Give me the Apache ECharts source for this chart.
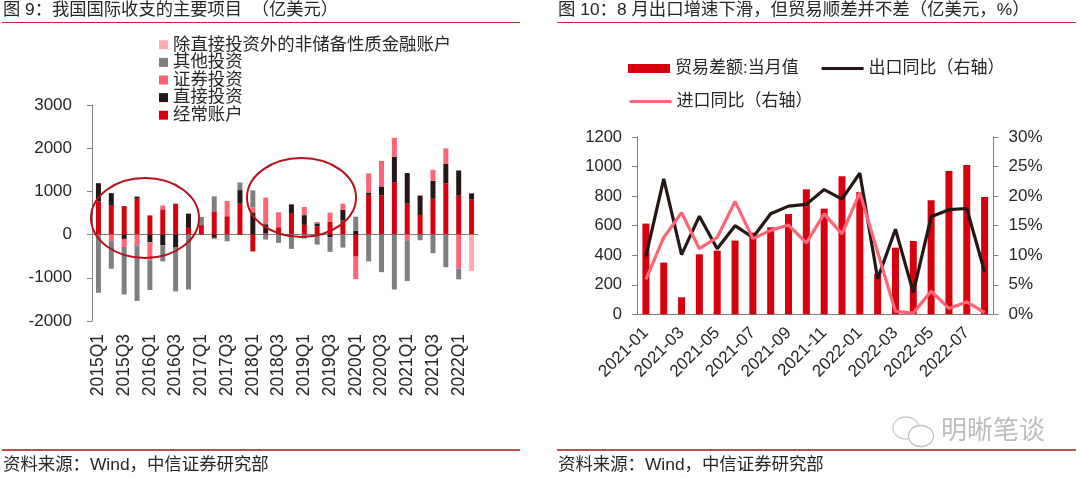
<!DOCTYPE html>
<html>
<head>
<meta charset="utf-8">
<script src="https://cdn.jsdelivr.net/npm/echarts@6/dist/echarts.min.js"></script>
<style>
html, body { margin: 0; padding: 0; background: #fff; }
#main { width: 1080px; height: 478px; }
</style>
</head>
<body>
<div id="main"></div>
<script>
// 图 9 国际收支
var quarters = ['2015Q1','2015Q2','2015Q3','2015Q4','2016Q1','2016Q2','2016Q3','2016Q4','2017Q1','2017Q2','2017Q3','2017Q4','2018Q1','2018Q2','2018Q3','2018Q4','2019Q1','2019Q2','2019Q3','2019Q4','2020Q1','2020Q2','2020Q3','2020Q4','2021Q1','2021Q2','2021Q3','2021Q4','2022Q1','2022Q2'];
var currentAccount = [770,685,660,830,445,585,715,155,210,540,425,715,-390,30,170,500,225,190,300,325,-510,920,905,1215,715,455,830,1190,900,810];
var directInvest = [420,275,-100,50,-177,-245,-300,330,25,-75,0,315,515,210,0,200,225,70,-60,245,90,55,210,585,710,445,415,445,585,145];
var portfolioInvest = [0,-150,-185,-250,-415,90,0,0,0,-30,355,0,110,615,345,0,190,30,207,145,-520,440,590,440,-130,15,255,360,-790,0];
var otherInvest = [-1346,-640,-1100,-1285,-690,-375,-1015,-1270,175,345,-155,175,400,-115,-190,-330,-90,-230,-340,-300,325,-620,-870,-1270,-945,-130,-430,-755,-245,0];
var nonReserve = [0,0,0,0,0,0,0,0,0,0,0,0,0,0,0,0,0,0,0,0,0,0,0,0,0,0,0,0,0,-840];

// 图 10 贸易差额
var months = ['2021-01','2021-02','2021-03','2021-04','2021-05','2021-06','2021-07','2021-08','2021-09','2021-10','2021-11','2021-12','2022-01','2022-02','2022-03','2022-04','2022-05','2022-06','2022-07','2022-08'];
var tradeBalance = [614,350,115,406,431,499,553,589,679,846,715,934,828,275,451,496,772,970,1011,794];
var exportYoy = [9.8,22.9,10.1,16.6,11.1,15,13,17,18.3,18.6,21.1,19.5,23.9,6,14.4,3.7,16.5,17.7,17.9,7.2];
var importYoy = [5.9,13,17.2,11.1,13,19.1,12.8,14.2,15.1,12.1,17,13.6,20.6,10.5,0.5,0.2,3.9,1,2.1,0.3];

var FONT = '"Liberation Sans","Noto Sans CJK SC",sans-serif';
var TEXT = '#262626';
var AXIS = '#808080';
var RED = '#d7000f', PINK = '#fd6478', DARK = '#231815', GREY = '#7f7f7f', LIGHT = '#ffabb0';

function stackBar(name, values, color) {
    return {
        name: name, type: 'bar', stack: 'bop', data: values,
        xAxisIndex: 0, yAxisIndex: 0, barWidth: 5,
        itemStyle: { color: color }
    };
}

function headText(x, y, str, size) {
    return { type: 'text', left: x, top: y, z: 10, silent: true,
        style: { text: str, font: size + 'px ' + FONT, fill: TEXT } };
}

function rule(x1, x2, y, width, color) {
    return { type: 'line', z: 10, silent: true,
        shape: { x1: x1, y1: y, x2: x2, y2: y },
        style: { stroke: color, lineWidth: width } };
}

function ring(cx, cy, rx, ry, color, width, fill) {
    return { type: 'ellipse', z: 10, silent: true,
        shape: { cx: cx, cy: cy, rx: rx, ry: ry },
        style: { fill: fill || 'none', stroke: color, lineWidth: width } };
}

// 右图图例分开放，折线的图标高度压到和线宽一样
function lineLegend(name, left, top) {
    return { left: left, top: top, itemWidth: 42, itemHeight: 3, selectedMode: false, padding: 0,
        lineStyle: { width: 3.2 },
        textStyle: { fontSize: 17, color: TEXT, fontFamily: FONT }, data: [name] };
}

function plainNumber(v) { return String(v); }

var axisLine = { lineStyle: { color: AXIS, width: 1 } };
var axisTick = { length: 5, lineStyle: { color: AXIS, width: 1 } };

var chart = echarts.init(document.getElementById('main'));
chart.setOption({
    animation: false,
    backgroundColor: '#fff',
    textStyle: { fontFamily: FONT },
    grid: [
        { left: 92, top: 105, width: 386, height: 216 },
        { left: 637, top: 137, width: 356.5, height: 177.3 }
    ],
    legend: [
        { left: 159, top: 36, orient: 'vertical', itemGap: 0, itemWidth: 9, itemHeight: 9, selectedMode: false, padding: 0,
          icon: 'rect', textStyle: { fontSize: 17.4, lineHeight: 17.6, color: TEXT, fontFamily: FONT },
          data: ['除直接投资外的非储备性质金融账户','其他投资','证券投资','直接投资','经常账户'] },
        { left: 628, top: 60, itemWidth: 42, itemHeight: 9, selectedMode: false, padding: 0, icon: 'rect',
          textStyle: { fontSize: 17, color: TEXT, fontFamily: FONT },
          data: ['贸易差额:当月值'] },
        lineLegend('出口同比（右轴）', 820, 60),
        lineLegend('进口同比（右轴）', 628, 93)
    ],
    xAxis: [
        { gridIndex: 0, type: 'category', data: quarters, axisLine: axisLine, axisTick: axisTick, axisLabel: { show: false } },
        { gridIndex: 0, type: 'category', data: quarters, position: 'bottom',
          axisLine: { show: false, onZero: false }, axisTick: { show: false },
          axisLabel: { interval: 1, rotate: 90, margin: 13, fontSize: 17.5, color: TEXT, fontFamily: FONT } },
        { gridIndex: 1, type: 'category', data: months, axisLine: axisLine, axisTick: axisTick,
          axisLabel: { interval: 1, rotate: 45, margin: 16, fontSize: 17, color: TEXT, fontFamily: FONT } }
    ],
    yAxis: [
        { gridIndex: 0, type: 'value', min: -2000, max: 3000, interval: 1000, splitLine: { show: false },
          axisLine: { show: true, onZero: false, lineStyle: axisLine.lineStyle }, axisTick: { show: true, length: 5, lineStyle: axisTick.lineStyle },
          axisLabel: { margin: 20, fontSize: 17, color: TEXT, fontFamily: FONT, formatter: plainNumber } },
        { gridIndex: 1, type: 'value', min: 0, max: 1200, interval: 200, splitLine: { show: false },
          axisLine: { show: true, lineStyle: axisLine.lineStyle }, axisTick: { show: true, length: 5, lineStyle: axisTick.lineStyle },
          axisLabel: { margin: 15, fontSize: 16.5, color: TEXT, fontFamily: FONT, formatter: plainNumber } },
        { gridIndex: 1, type: 'value', position: 'right', min: 0, max: 30, interval: 5, splitLine: { show: false },
          axisLine: { show: true, lineStyle: axisLine.lineStyle }, axisTick: { show: true, length: 5, lineStyle: axisTick.lineStyle },
          axisLabel: { margin: 15, fontSize: 17, color: TEXT, fontFamily: FONT, formatter: '{value}%' } }
    ],
    series: [
        stackBar('经常账户', currentAccount, RED),
        stackBar('直接投资', directInvest, DARK),
        stackBar('证券投资', portfolioInvest, PINK),
        stackBar('其他投资', otherInvest, GREY),
        stackBar('除直接投资外的非储备性质金融账户', nonReserve, LIGHT),
        { name: '贸易差额:当月值', type: 'bar', xAxisIndex: 2, yAxisIndex: 1, data: tradeBalance, barWidth: 7, itemStyle: { color: RED } },
        { name: '出口同比（右轴）', type: 'line', xAxisIndex: 2, yAxisIndex: 2, data: exportYoy, symbol: 'none', lineStyle: { color: DARK, width: 3.2 }, itemStyle: { color: DARK } },
        { name: '进口同比（右轴）', type: 'line', xAxisIndex: 2, yAxisIndex: 2, data: importYoy, symbol: 'none', lineStyle: { color: PINK, width: 3.2 }, itemStyle: { color: PINK } }
    ],
    graphic: [
        headText(3, 2, '图 9：我国国际收支的主要项目  （亿美元）', 17.3),
        headText(558, 2, '图 10：8 月出口增速下滑，但贸易顺差并不差（亿美元，%）', 17.4),
        rule(2, 520, 22.5, 1.2, '#bf2f36'),
        rule(557, 1076, 22.5, 1.2, '#bf2f36'),
        rule(2, 520, 450, 1.8, '#c0504f'),
        rule(557, 1076, 450, 1.8, '#c0504f'),
        headText(3, 457, '资料来源：Wind，中信证券研究部', 17.4),
        headText(558, 457, '资料来源：Wind，中信证券研究部', 17.4),
        ring(145, 218, 54, 40, '#b5121b', 2),
        ring(301.5, 197.5, 54.5, 39.5, '#b5121b', 2),
        // 水印
        ring(906, 428, 13, 11, '#cfcfcf', 1.3),
        ring(921, 436, 12.5, 10.5, '#c4c4c4', 1.3, '#fff'),
        { type: 'text', left: 941, top: 416, z: 10, silent: true,
          style: { text: '明晰笔谈', font: '26px "Noto Sans CJK SC"', fill: '#bdbdbd' } }
    ]
});
</script>
</body>
</html>
